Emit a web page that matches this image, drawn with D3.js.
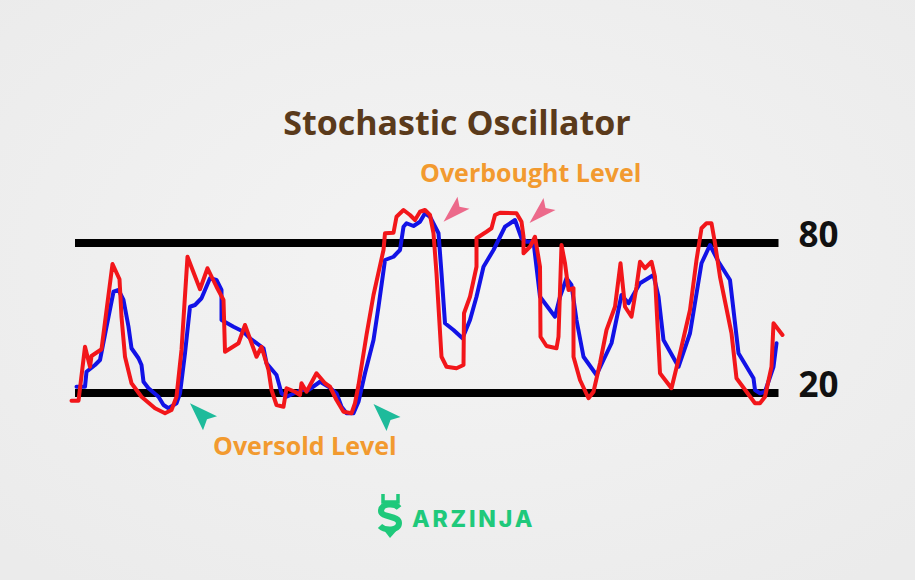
<!DOCTYPE html>
<html>
<head>
<meta charset="utf-8">
<script src="https://cdn.jsdelivr.net/npm/d3@7/dist/d3.min.js"></script>
<style>
  html, body { margin: 0; padding: 0; background: #efefef; }
  svg { display: block; }
</style>
</head>
<body>
<svg id="chart" width="915" height="580"></svg>
<script>
// ---- Data (t = period index, value = oscillator %) ----
const kTime = [0.1,1.5,2.8,3.8,4.1,6.1,8.3,9.7,10.1,10.8,12.1,14.1,16.8,18.8,20.1,21.1,22.1,23.3,25.8,27.3,29.1,30.5,30.8,33.5,34.8,37.1,38.1,39.5,40.1,41.1,42.5,43.1,44.8,45.8,46.1,47.1,49.1,50.8,51.8,53.1,54.5,56.1,56.8,57.5,59.1,60.5,62.5,62.8,64.5,65.1,66.5,67.8,68.8,69.8,70.8,71.8,72.5,73.1,74.1,75.1,77.1,78.5,78.6,79.8,81.1,81.1,83.1,84.1,84.8,85.8,89.1,90.1,90.5,90.5,91.8,92.8,93.8,93.9,95.1,97.1,97.5,98.1,98.8,99.5,100.5,100.5,101.8,103.5,104.5,105.8,107.1,108.8,109.9,110.8,112.1,113.1,113.8,114.8,116.1,116.8,117.8,120.1,121.8,123.8,125.1,126.1,127.1,128.1,128.8,129.8,132.1,133.1,135.1,136.8,137.8,138.8,140.1,140.5,142.3];
const kValues = [16.9,16.9,38.5,30.5,34.8,37.5,71.6,65.5,50.5,34.5,23.9,18.5,13.9,11.9,13.2,18.5,37.2,74.5,61.5,69.9,62.5,57.2,36.5,39.9,47.2,34.5,38.5,29.2,21.2,15.2,14.5,21.9,20.5,19.2,23.9,20.5,27.9,23.9,22.5,17.2,12.5,11.9,15.9,23.2,43.2,59.2,77.2,83.9,84.1,90.5,93.2,91.2,89.2,92.5,93.2,91.2,83.9,67.9,34.5,30.5,29.9,31.2,51.9,58.5,70.5,81.9,84.5,85.9,91.2,92.1,91.9,88.5,82.5,75.9,78.5,82.5,70.5,42.5,38.8,37.9,42.5,79.2,71.9,61.2,61.9,34.5,25.2,17.9,20.5,31.9,45.2,54.5,71.9,54.5,50.5,62.5,72.5,69.9,72.5,66.5,27.9,21.9,35.9,53.2,73.2,85.9,87.9,87.9,79.9,66.5,43.9,25.9,20.5,15.9,15.9,18.5,30.5,47.9,43.2];

const dTime = [1.1,2.8,3.1,4.8,5.8,7.1,8.5,9.5,10.5,11.5,12.1,13.5,14.1,14.5,15.5,17.5,18.5,19.5,21.1,21.8,22.8,23.8,24.8,26.1,26.8,27.8,29.1,30.1,30.1,32.5,34.5,35.8,38.5,39.1,41.1,42.1,43.1,46.1,47.5,49.8,51.5,53.1,54.1,55.1,56.5,57.5,58.8,60.5,61.5,62.8,64.5,65.8,66.5,67.1,68.5,69.8,70.8,71.8,73.5,74.1,74.8,76.5,78.3,79.8,81.1,82.5,84.5,86.8,88.8,90.1,91.1,92.5,93.8,96.8,97.8,99.1,100.1,101.1,102.5,105.1,106.5,108.1,110.1,111.5,113.8,116.5,117.5,118.5,121.5,123.8,126.1,127.8,129.5,131.8,133.5,136.5,136.8,137.8,138.8,140.5,141.1];
const dValues = [22.5,22.5,28.5,31.2,33.2,46.5,60.5,61.2,57.2,46.5,37.9,33.9,31.2,24.5,21.9,18.5,15.2,13.9,15.9,19.9,35.9,54.5,55.2,57.9,61.2,65.9,65.2,61.2,49.2,46.5,44.5,41.9,37.9,31.9,27.2,19.9,18.5,21.2,21.2,24.5,22.5,19.9,14.5,11.9,11.9,16.5,27.9,41.2,54.5,73.2,74.5,77.2,86.5,87.9,86.8,88.5,91.9,90.5,83.9,67.9,47.9,45.2,41.9,49.2,58.5,70.5,77.2,86.5,89.2,81.9,80.5,80.5,58.5,50.5,58.5,65.9,63.2,49.2,34.5,27.2,33.2,39.9,59.2,55.9,63.9,67.2,58.5,41.2,30.5,43.9,71.9,79.2,72.5,65.2,35.9,25.9,21.2,19.9,20.5,30.5,39.9];

const levelValues = [80, 20];
const levelLabels = ["80", "20"];
const levelExtent = [0.8, 141.5];

// annotation arrows: tip position in data units
const obArrows = [[74.5, 88.5], [91.7, 88.0]];
const osArrows = [[23.8, 15.9], [60.5, 15.6]];

const titleText = "Stochastic Oscillator";
const overboughtText = "Overbought Level";
const oversoldText = "Oversold Level";
const brandText = "ARZINJA";

// ---- Drawing ----
const svg = d3.select("#chart");
const W = 915, H = 580;

const defs = svg.append("defs");
const grad = defs.append("radialGradient").attr("id", "bg").attr("cx", "50%").attr("cy", "45%").attr("r", "70%");
grad.append("stop").attr("offset", "0%").attr("stop-color", "#f4f4f4");
grad.append("stop").attr("offset", "100%").attr("stop-color", "#ebebeb");
svg.append("rect").attr("width", W).attr("height", H).attr("fill", "url(#bg)");

const x = d3.scaleLinear().domain([0, 142]).range([71, 781]);
const y = d3.scaleLinear().domain([0, 100]).range([443, 193]);

// title
svg.append("text")
  .attr("x", 457).attr("y", 135)
  .attr("text-anchor", "middle")
  .attr("font-family", "'Open Sans', sans-serif")
  .attr("font-weight", 700)
  .attr("font-size", 34)
  .attr("fill", "#5a3a1b")
  .text(titleText);

// level lines
svg.selectAll("line.level").data(levelValues).join("line")
  .attr("class", "level")
  .attr("x1", x(levelExtent[0])).attr("x2", x(levelExtent[1]))
  .attr("y1", d => y(d)).attr("y2", d => y(d))
  .attr("stroke", "#000").attr("stroke-width", 8);

svg.selectAll("text.levelLabel").data(levelValues).join("text")
  .attr("class", "levelLabel")
  .attr("x", x(levelExtent[1]) + 20)
  .attr("y", d => y(d) + 4)
  .attr("font-family", "'Open Sans', sans-serif")
  .attr("font-weight", 700)
  .attr("font-size", 35)
  .attr("fill", "#111")
  .text((d, i) => levelLabels[i]);

const line = d3.line().x(d => x(d[0])).y(d => y(d[1])).curve(d3.curveLinear);
const dData = dTime.map((t, i) => [t, dValues[i]]);
const kData = kTime.map((t, i) => [t, kValues[i]]);

svg.append("path").datum(dData)
  .attr("d", line).attr("fill", "none")
  .attr("stroke", "#1212e6").attr("stroke-width", 4)
  .attr("stroke-linejoin", "round").attr("stroke-linecap", "round");

svg.append("path").datum(kData)
  .attr("d", line).attr("fill", "none")
  .attr("stroke", "#f2161a").attr("stroke-width", 4)
  .attr("stroke-linejoin", "round").attr("stroke-linecap", "round");

// arrows
const obShape = [[0,0],[14,-25],[16,-15],[26,-13]];
const osShape = [[0,0],[27,13],[17,16],[13,27]];
svg.selectAll("path.ob").data(obArrows).join("path")
  .attr("class", "ob")
  .attr("d", d => "M" + obShape.map(p => [x(d[0]) + p[0], y(d[1]) + p[1]].join(",")).join("L") + "Z")
  .attr("fill", "#ec6a8b");
svg.selectAll("path.os").data(osArrows).join("path")
  .attr("class", "os")
  .attr("d", d => "M" + osShape.map(p => [x(d[0]) + p[0], y(d[1]) + p[1]].join(",")).join("L") + "Z")
  .attr("fill", "#1ebb9b");

// annotations
svg.append("text")
  .attr("x", 420).attr("y", 182)
  .attr("font-family", "'Open Sans', sans-serif")
  .attr("font-weight", 700).attr("font-size", 25)
  .attr("fill", "#f29a2f")
  .text(overboughtText);
svg.append("text")
  .attr("x", 213).attr("y", 455)
  .attr("font-family", "'Open Sans', sans-serif")
  .attr("font-weight", 700).attr("font-size", 25)
  .attr("fill", "#f29a2f")
  .text(oversoldText);

// brand
const g = svg.append("g").attr("fill", "none").attr("stroke", "#1fc97b");
g.append("path").attr("d", "M383,494 V502 H398 V494").attr("stroke-width", 3.5);
g.append("path").attr("d", "M399,508 C395,503 381,503 381,511 C381,518 399,515 399,523 C399,531 385,531 380,526")
  .attr("stroke-width", 6).attr("stroke-linecap", "butt");
svg.append("path").attr("d", "M383,529 L390,538 L398,529 Z").attr("fill", "#1fc97b");
svg.append("text")
  .attr("x", 412).attr("y", 527)
  .attr("font-family", "Inter, sans-serif")
  .attr("font-weight", 800).attr("font-size", 23)
  .attr("letter-spacing", 2.8)
  .attr("fill", "#1fc97b")
  .text(brandText);
</script>
</body>
</html>
